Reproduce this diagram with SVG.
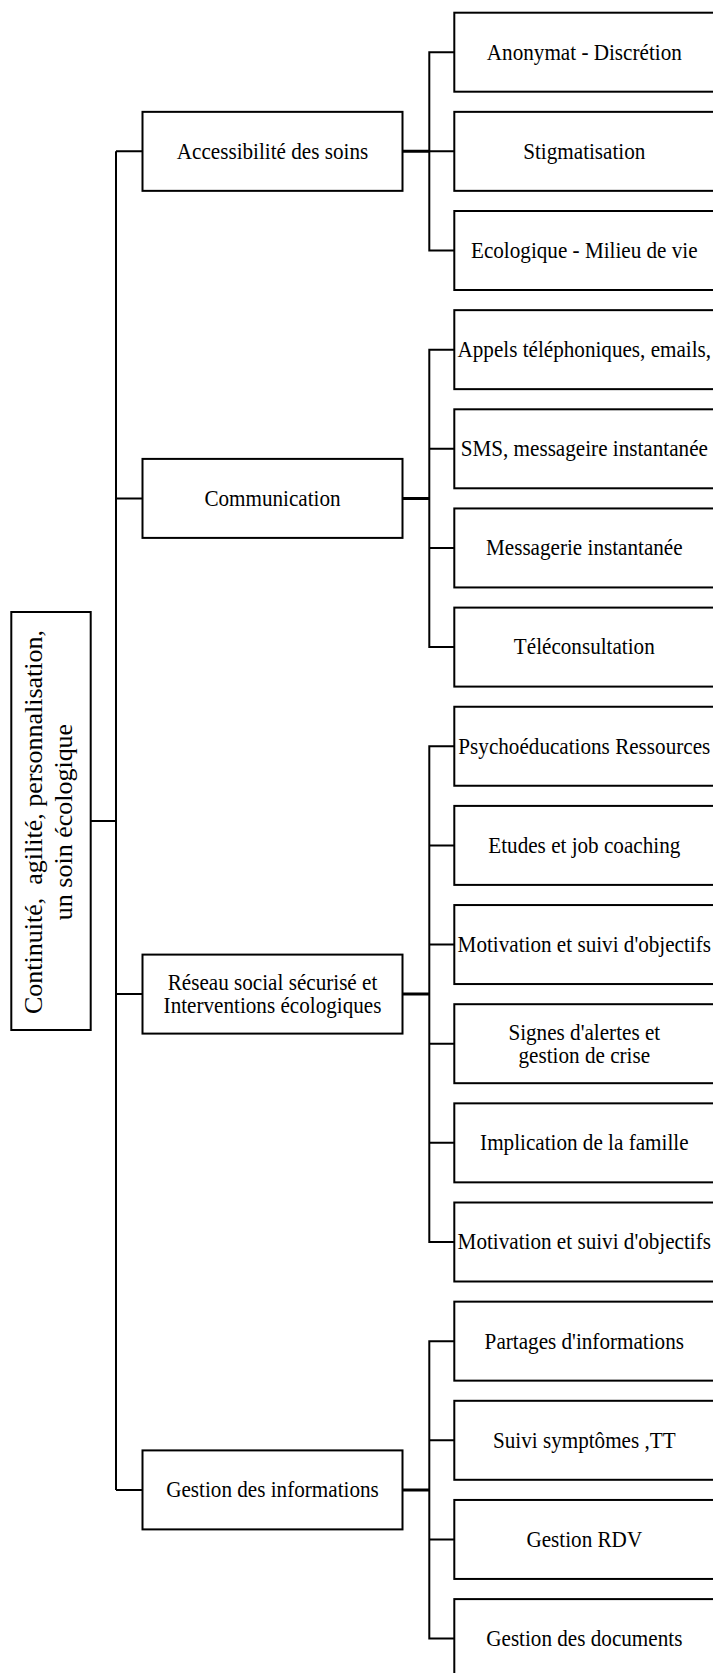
<svg xmlns="http://www.w3.org/2000/svg" width="713" height="1673" viewBox="0 0 713 1673">
<style>
.bx{fill:#fff;stroke:#000;stroke-width:2}
.ln{fill:none;stroke:#000;stroke-width:2;stroke-linejoin:miter}
.lt{fill:none;stroke:#000;stroke-width:3}
.t{font-family:"Liberation Serif","Times New Roman",serif;font-size:22.5px;fill:#000;text-anchor:middle}
.r{font-family:"Liberation Serif","Times New Roman",serif;font-size:26px;fill:#000;text-anchor:middle}
</style>
<rect width="713" height="1673" fill="#fff"/>
<g id="connectors">
<path class="ln" d="M116 151.35 V1489.9 M90.7 821 H116 M116 151.35 H142.5 M116 498.4 H142.5 M116 994.1 H142.5 M116 1489.9 H142.5"/>
<path class="lt" d="M402.5 151.35 H429.3 M402.5 498.4 H429.3 M402.5 994.1 H429.3 M402.5 1489.9 H429.3"/>
<path class="ln" d="M454.3 52.2 H429.3 V250.5 H454.3 M429.3 151.35 H454.3"/>
<path class="ln" d="M454.3 349.65 H429.3 V647.1 H454.3 M429.3 448.8 H454.3 M429.3 547.95 H454.3"/>
<path class="ln" d="M454.3 746.25 H429.3 V1242 H454.3 M429.3 845.4 H454.3 M429.3 944.55 H454.3 M429.3 1043.7 H454.3 M429.3 1142.85 H454.3"/>
<path class="ln" d="M454.3 1341.15 H429.3 V1638.6 H454.3 M429.3 1440.3 H454.3 M429.3 1539.45 H454.3"/>
</g>
<g id="root">
<rect class="bx" x="11.3" y="612" width="79.4" height="418"/>
<text class="r" transform="matrix(0 -1 0.934 0 41.7 822)" x="0" y="0">Continuité,&#160; agilité, personnalisation,</text>
<text class="r" transform="matrix(0 -1 0.934 0 71.7 822)" x="0" y="0">un soin écologique</text>
</g>
<g id="n-accessibilite">
<rect class="bx" x="142.5" y="111.85" width="260" height="79"/>
<text class="t" transform="matrix(0.94 0 0 1 272.5 0)" x="0" y="158.75">Accessibilité des soins</text>
</g>
<g id="n-communication">
<rect class="bx" x="142.5" y="458.9" width="260" height="79"/>
<text class="t" transform="matrix(0.94 0 0 1 272.5 0)" x="0" y="505.8">Communication</text>
</g>
<g id="n-reseau">
<rect class="bx" x="142.5" y="954.6" width="260" height="79"/>
<text class="t" transform="matrix(0.94 0 0 1 272.5 0)" x="0" y="990">Réseau social sécurisé et</text>
<text class="t" transform="matrix(0.94 0 0 1 272.5 0)" x="0" y="1013">Interventions écologiques</text>
</g>
<g id="n-gestion">
<rect class="bx" x="142.5" y="1450.4" width="260" height="79"/>
<text class="t" transform="matrix(0.94 0 0 1 272.5 0)" x="0" y="1497.3">Gestion des informations</text>
</g>
<g id="l0"><rect class="bx" x="454.3" y="12.7" width="260" height="79"/><text class="t" transform="matrix(0.94 0 0 1 584.3 0)" x="0" y="59.6">Anonymat - Discrétion</text></g>
<g id="l1"><rect class="bx" x="454.3" y="111.85" width="260" height="79"/><text class="t" transform="matrix(0.94 0 0 1 584.3 0)" x="0" y="158.75">Stigmatisation</text></g>
<g id="l2"><rect class="bx" x="454.3" y="211" width="260" height="79"/><text class="t" transform="matrix(0.94 0 0 1 584.3 0)" x="0" y="257.9">Ecologique - Milieu de vie</text></g>
<g id="l3"><rect class="bx" x="454.3" y="310.15" width="260" height="79"/><text class="t" transform="matrix(0.94 0 0 1 584.3 0)" x="0" y="357.05">Appels téléphoniques, emails,</text></g>
<g id="l4"><rect class="bx" x="454.3" y="409.3" width="260" height="79"/><text class="t" transform="matrix(0.94 0 0 1 584.3 0)" x="0" y="456.2">SMS, messageire instantanée</text></g>
<g id="l5"><rect class="bx" x="454.3" y="508.45" width="260" height="79"/><text class="t" transform="matrix(0.94 0 0 1 584.3 0)" x="0" y="555.35">Messagerie instantanée</text></g>
<g id="l6"><rect class="bx" x="454.3" y="607.6" width="260" height="79"/><text class="t" transform="matrix(0.94 0 0 1 584.3 0)" x="0" y="654.5">Téléconsultation</text></g>
<g id="l7"><rect class="bx" x="454.3" y="706.75" width="260" height="79"/><text class="t" transform="matrix(0.94 0 0 1 584.3 0)" x="0" y="753.65">Psychoéducations Ressources</text></g>
<g id="l8"><rect class="bx" x="454.3" y="805.9" width="260" height="79"/><text class="t" transform="matrix(0.94 0 0 1 584.3 0)" x="0" y="852.8">Etudes et job coaching</text></g>
<g id="l9"><rect class="bx" x="454.3" y="905.05" width="260" height="79"/><text class="t" transform="matrix(0.94 0 0 1 584.3 0)" x="0" y="951.95">Motivation et suivi d'objectifs</text></g>
<g id="l10"><rect class="bx" x="454.3" y="1004.2" width="260" height="79"/><text class="t" transform="matrix(0.94 0 0 1 584.3 0)" x="0" y="1039.6">Signes d'alertes et</text><text class="t" transform="matrix(0.94 0 0 1 584.3 0)" x="0" y="1062.6">gestion de crise</text></g>
<g id="l11"><rect class="bx" x="454.3" y="1103.35" width="260" height="79"/><text class="t" transform="matrix(0.94 0 0 1 584.3 0)" x="0" y="1150.25">Implication de la famille</text></g>
<g id="l12"><rect class="bx" x="454.3" y="1202.5" width="260" height="79"/><text class="t" transform="matrix(0.94 0 0 1 584.3 0)" x="0" y="1249.4">Motivation et suivi d'objectifs</text></g>
<g id="l13"><rect class="bx" x="454.3" y="1301.65" width="260" height="79"/><text class="t" transform="matrix(0.94 0 0 1 584.3 0)" x="0" y="1348.55">Partages d'informations</text></g>
<g id="l14"><rect class="bx" x="454.3" y="1400.8" width="260" height="79"/><text class="t" transform="matrix(0.94 0 0 1 584.3 0)" x="0" y="1447.7">Suivi symptômes ,TT</text></g>
<g id="l15"><rect class="bx" x="454.3" y="1499.95" width="260" height="79"/><text class="t" transform="matrix(0.94 0 0 1 584.3 0)" x="0" y="1546.85">Gestion RDV</text></g>
<g id="l16"><rect class="bx" x="454.3" y="1599.1" width="260" height="79"/><text class="t" transform="matrix(0.94 0 0 1 584.3 0)" x="0" y="1646">Gestion des documents</text></g>
</svg>
